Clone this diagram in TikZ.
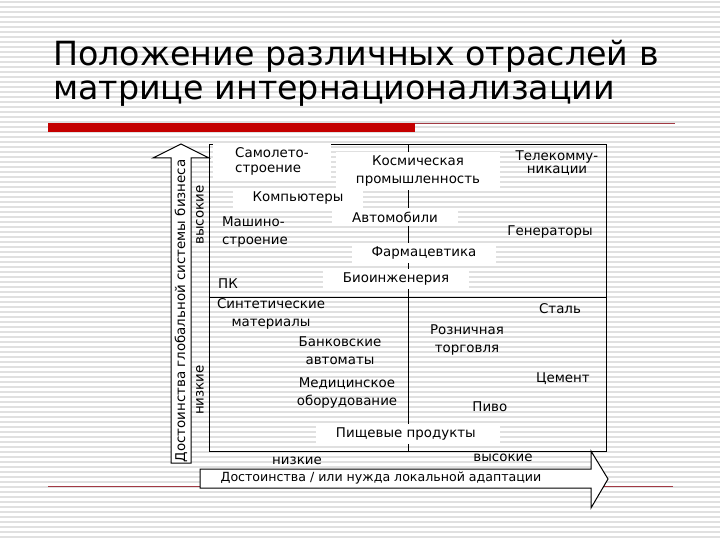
\documentclass[tikz,border=0pt]{standalone}
\usepackage{fontspec}
\setmainfont{DejaVu Sans}
\definecolor{slidered}{HTML}{C40000}
\definecolor{linered}{HTML}{A23A44}
\definecolor{stripegray}{HTML}{E0E0E0}
\newcommand{\lblsize}{\fontsize{13.4}{18}\selectfont}
\newcommand{\ttlsize}{\fontsize{33.3}{35}\selectfont}

\begin{document}
\begin{tikzpicture}[x=1pt, y=-1pt,
    lab/.style={font=\lblsize, inner sep=0pt, align=center},
    wlab/.style={lab, fill=white, inner xsep=20pt, inner ysep=4pt},
    stripe/.style={stripegray, line width=1.4pt},
    frame/.style={line width=1pt}]
  \useasboundingbox (0,0) rectangle (720,540);
  % background of the slide
  \fill[white] (0,0) rectangle (720,540);
  \foreach \s in {0,...,107}
    {\draw[stripe] (0,\s*5+2) -- (720,\s*5+2);}

  % title and bar
  \node[anchor=base west, font=\ttlsize, inner sep=0pt] (title1) at (53,66) {Положение различных отраслей в};
  \node[anchor=base west, font=\ttlsize, inner sep=0pt] (title2) at (53,100) {матрице интернационализации};
  \fill[slidered] (48,123) rectangle (415,132);
  \draw[linered, line width=1pt] (415,124) -- (675,124);
  \draw[linered, line width=0.8pt] (48,486) -- (673,486);

  % axes as block arrows
  \draw[frame, fill=white] (171,463) -- (171,158) -- (153,158) -- (181,144)
    -- (209,158) -- (191,158) -- (191,463) -- cycle;
  \draw[frame, fill=white] (200,469) -- (591,469) -- (591,451) -- (608,479)
    -- (591,508) -- (591,488) -- (200,488) -- cycle;

  % matrix
  \draw[frame] (209,145) rectangle (606,451);
  \draw (408,145) -- (408,451);
  \draw (209,297) -- (606,297);

  % industries
  \node[wlab, align=left, inner xsep=22pt, font=\fontsize{13.4}{15}\selectfont] (samolet) at (272,161) {Самолето-\\строение};
  \node[lab, font=\fontsize{13.4}{12.5}\selectfont] (telecom) at (557,163) {Телекомму-\\никации};
  \node[lab, align=left] (mashino) at (255,232) {Машино-\\строение};
  \foreach \x/\y/\txt [count=\i] in {
    298/198/Компьютеры,
    418/171/{Космическая\\промышленность},
    395/217/Автомобили,
    424/253/Фармацевтика,
    396/279/Биоинженерия,
    408/434/Пищевые продукты
  }{
    \node[wlab] (white\i) at (\x,\y) {\txt};
  }
  \foreach \x/\y/\txt [count=\i] in {
    228/284/ПК,
    550/232/Генераторы,
    271/314/{Синтетические\\материалы},
    340/351/{Банковские\\автоматы},
    347/393/{Медицинское\\оборудование},
    560/309/Сталь,
    467/340/{Розничная\\торговля},
    563/379/Цемент,
    492/407/Пиво
  }{
    \node[lab] (ind\i) at (\x,\y) {\txt};
  }

  % axis labels
  \node[lab, rotate=90] (yhigh) at (200,215) {высокие};
  \node[lab, rotate=90] (ylow) at (200,390) {низкие};
  \node[lab, rotate=90] (ytitle) at (181,311) {Достоинства глобальной системы бизнеса};
  \node[lab] (xlow) at (297,461) {низкие};
  \node[lab] (xhigh) at (503,458) {высокие};
  \node[lab, font=\fontsize{12.6}{15}\selectfont] (xtitle) at (381,478) {Достоинства / или нужда локальной адаптации};
\end{tikzpicture}
\end{document}
